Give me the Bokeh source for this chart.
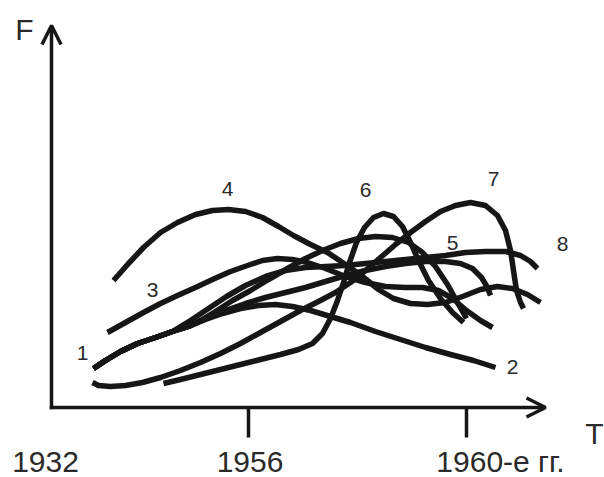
from bokeh.plotting import figure
from bokeh.models import Range1d, Arrow, OpenHead
from bokeh.core.properties import value
from bokeh.embed import file_html
from bokeh.resources import INLINE

# ---- data (schematic units: T to the right of the F axis, F above the T axis) ----
c1_x = [42, 54, 69, 86, 104, 121, 137, 149, 164, 181, 199, 217, 236, 254, 271, 289, 307, 324, 341, 357, 371, 384, 396, 406, 415]
c1_y = [39, 47, 56, 64, 70, 76, 81, 87, 96, 107, 117, 128, 139, 149, 157, 164, 169, 171, 170, 165, 155, 141, 123, 105, 89]

c2_x = [42, 54, 69, 86, 104, 121, 137, 154, 171, 189, 207, 224, 241, 259, 279, 299, 324, 349, 374, 399, 422, 444]
c2_y = [39, 47, 56, 64, 70, 76, 81, 88, 94, 99, 102, 103, 101, 97, 91, 85, 76, 68, 60, 53, 47, 40]

c3_x = [56, 74, 92, 109, 126, 144, 161, 179, 196, 211, 226, 241, 256, 274, 294, 314, 334, 354, 371, 387, 401, 415, 429, 441]
c3_y = [75, 85, 95, 104, 112, 120, 128, 136, 142, 147, 149, 148, 145, 139, 131, 125, 121, 120, 120, 117, 109, 97, 87, 80]

c4_x = [62, 77, 92, 109, 126, 144, 161, 177, 194, 211, 227, 242, 259, 276, 294, 311, 327, 342, 359, 376, 394, 411, 429, 446, 461, 476, 489]
c4_y = [127, 144, 160, 175, 185, 193, 197, 198, 196, 190, 181, 172, 163, 155, 143, 131, 118, 109, 104, 103, 105, 111, 118, 121, 119, 113, 105]

c5_x = [42, 54, 69, 86, 104, 121, 137, 154, 174, 194, 214, 234, 254, 274, 294, 314, 334, 354, 374, 394, 409, 421, 430, 436, 439]
c5_y = [39, 47, 56, 64, 70, 76, 81, 89, 97, 104, 110, 115, 120, 126, 132, 137, 141, 144, 146, 146, 144, 139, 130, 120, 112]

c6_x = [112, 129, 149, 169, 189, 209, 229, 247, 261, 271, 279, 286, 292, 298, 305, 313, 322, 332, 342, 351, 359, 367, 377, 389, 401, 412]
c6_y = [24, 28, 33, 38, 43, 48, 53, 58, 64, 74, 89, 107, 125, 145, 165, 180, 190, 194, 191, 181, 165, 147, 127, 109, 95, 85]

c7_x = [41, 47, 59, 74, 91, 109, 129, 149, 169, 189, 209, 229, 249, 267, 284, 299, 314, 329, 344, 359, 374, 389, 404, 419, 434, 446, 454, 459, 462, 465, 469, 472]
c7_y = [25, 22, 21, 22, 25, 30, 37, 45, 54, 64, 75, 86, 97, 106, 115, 125, 137, 150, 163, 175, 186, 196, 202, 205, 202, 192, 177, 157, 137, 117, 105, 99]

c8_x = [42, 54, 69, 86, 104, 121, 139, 157, 175, 194, 214, 234, 254, 274, 294, 314, 334, 354, 374, 394, 414, 434, 454, 469, 479, 486]
c8_y = [39, 47, 56, 64, 70, 76, 87, 99, 111, 122, 131, 137, 140, 141, 142, 144, 146, 148, 150, 152, 155, 156, 156, 152, 146, 139]

curve_names = ["1", "2", "3", "4", "5", "6", "7", "8"]
label_x = [31, 461, 101, 176, 401, 314, 442, 511]
label_y = [55, 41, 118, 219, 165, 218, 229, 164]

tick_x = [197, 415]
tick_label_text = ["1932", "1956", "1960-е гг."]
tick_label_x = [-6, 198.5, 449]

AXIS_T_END = 494
AXIS_F_END = 382
TICK_LEN = 30

# ---- figure ----
p = figure(width=604, height=477, output_backend="svg", toolbar_location=None,
           x_range=Range1d(-51, 553), y_range=Range1d(-70, 407),
           x_axis_location=None, y_axis_location=None, min_border=0)
p.grid.visible = False
p.outline_line_color = None
p.background_fill_color = "white"

INK = "#161616"
TXT = "#2a2a2a"

# axes with arrows
p.add_layout(Arrow(end=OpenHead(size=19, line_width=3.5, line_color=INK),
                   x_start=0, y_start=-1.75, x_end=0, y_end=AXIS_F_END,
                   line_width=3.5, line_color=INK))
p.add_layout(Arrow(end=OpenHead(size=19, line_width=3.5, line_color=INK),
                   x_start=-1.75, y_start=0, x_end=AXIS_T_END, y_end=0,
                   line_width=3.5, line_color=INK))
p.segment(x0=tick_x, y0=[0] * len(tick_x), x1=tick_x, y1=[-TICK_LEN] * len(tick_x),
          line_width=3.5, line_color=INK)

# curves
curves = [(c1_x, c1_y), (c2_x, c2_y), (c3_x, c3_y), (c4_x, c4_y),
          (c5_x, c5_y), (c6_x, c6_y), (c7_x, c7_y), (c8_x, c8_y)]
for xs, ys in curves:
    p.line(xs, ys, line_width=5.5, line_color=INK, line_join="round", line_cap="butt")

# curve numbers
p.text(x=label_x, y=label_y, text=curve_names, text_font=value("Liberation Sans"),
       text_font_size="21px", text_color=TXT, text_align="center", text_baseline="middle")

# tick labels
p.text(x=tick_label_x, y=[-54] * 3, text=tick_label_text, text_font=value("Liberation Sans"),
       text_font_size="30px", text_color=TXT, text_align="center", text_baseline="middle")

# axis names
p.text(x=[-27], y=[378], text=["F"], text_font=value("Liberation Sans"),
       text_font_size="30px", text_color=TXT, text_align="center", text_baseline="middle")
p.text(x=[543], y=[-25.5], text=["T"], text_font=value("Liberation Sans"),
       text_font_size="30px", text_color=TXT, text_align="center", text_baseline="middle")

open("out.html", "w").write(file_html(p, INLINE))
